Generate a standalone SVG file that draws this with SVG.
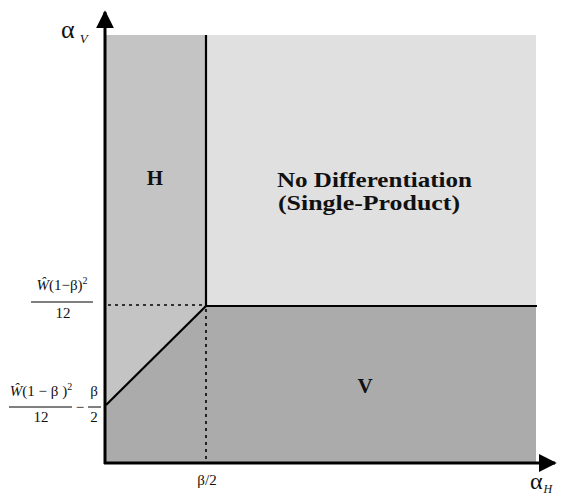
<svg xmlns="http://www.w3.org/2000/svg" width="563" height="498" viewBox="0 0 563 498">
<defs>
<style>
text{font-family:"Liberation Serif","DejaVu Serif","Times New Roman",serif;fill:#111}
.b{font-weight:bold}
.ax{stroke:#000;stroke-width:3;fill:none}
.bd{stroke:#000;stroke-width:2.2;fill:none}
.dot{stroke:#000;stroke-width:1.6;stroke-dasharray:3,4;fill:none}
.fb{stroke:#000;stroke-width:1}
</style>
<marker id="arr" viewBox="0 0 10 10" refX="9" refY="5" markerWidth="6" markerHeight="6" markerUnits="strokeWidth" orient="auto">
<path d="M0,0 L10,5 L0,10 z" fill="#000"/>
</marker>
</defs>
<rect width="563" height="498" fill="#fff"/>
<g id="region-nodiff"><rect x="206" y="35" width="330" height="271" fill="#e0e0e0"/></g>
<g id="region-H"><polygon points="106,35 206,35 206,306 106,405" fill="#c4c4c4"/></g>
<g id="region-V"><polygon points="106,405 206,306 536,306 536,463 106,463" fill="#ababab"/></g>
<g id="connectors">
<line class="bd" x1="206" y1="35" x2="206" y2="306"/>
<line class="bd" x1="206" y1="306" x2="537" y2="306"/>
<line class="bd" x1="106" y1="405" x2="206" y2="306"/>
<line class="dot" x1="108" y1="305" x2="205" y2="305"/>
<line class="dot" x1="206" y1="309" x2="206" y2="461"/>
<line class="ax" x1="105" y1="464" x2="105" y2="12" marker-end="url(#arr)"/>
<line class="ax" x1="104" y1="463" x2="555" y2="463" marker-end="url(#arr)"/>
</g>
<g id="label-H"><text class="b" x="155" y="185" font-size="21" text-anchor="middle">H</text></g>
<g id="label-nodiff">
<text class="b" x="277" y="187" font-size="22" textLength="195" lengthAdjust="spacingAndGlyphs">No Differentiation</text>
<text class="b" x="278" y="210" font-size="22" textLength="182" lengthAdjust="spacingAndGlyphs">(Single-Product)</text>
</g>
<g id="label-V"><text class="b" x="365" y="393" font-size="21" text-anchor="middle">V</text></g>
<g id="label-alphaV"><text x="61" y="38" font-size="26">α<tspan font-size="13" font-style="italic" dx="5" dy="5">V</tspan></text></g>
<g id="label-alphaH"><text x="530" y="489" font-size="24">α<tspan font-size="12" font-style="italic" dx="1" dy="4">H</tspan></text></g>
<g id="label-beta2"><text x="207" y="485" font-size="15" text-anchor="middle">β/2</text></g>
<g id="label-frac1">
<text x="62" y="290" font-size="15" text-anchor="middle"><tspan font-style="italic">Ŵ</tspan>(1−β)<tspan font-size="10" dy="-6">2</tspan></text>
<line class="fb" x1="31" y1="302" x2="93" y2="302"/>
<text x="63" y="318" font-size="15" text-anchor="middle">12</text>
</g>
<g id="label-frac2">
<text x="41" y="396" font-size="15" text-anchor="middle"><tspan font-style="italic">Ŵ</tspan>(1 − β )<tspan font-size="10" dy="-6">2</tspan></text>
<line class="fb" x1="9" y1="407" x2="72" y2="407"/>
<text x="41" y="422" font-size="15" text-anchor="middle">12</text>
<text x="80" y="412" font-size="15" text-anchor="middle">−</text>
<text x="94" y="396" font-size="15" text-anchor="middle">β</text>
<line class="fb" x1="88" y1="407" x2="101" y2="407"/>
<text x="94" y="422" font-size="15" text-anchor="middle">2</text>
</g>
</svg>
